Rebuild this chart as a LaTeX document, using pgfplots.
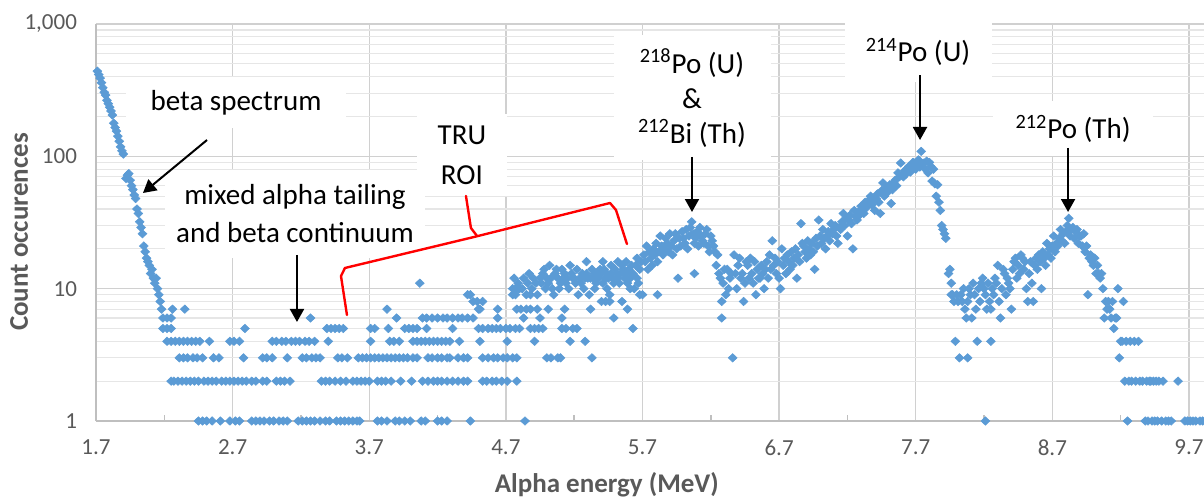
\documentclass[border=0pt]{standalone}
\usepackage{fontspec}
\setmainfont{Carlito}
\usepackage{pgfplots}
\pgfplotsset{compat=1.18}
\usetikzlibrary{arrows.meta}
\definecolor{dot}{HTML}{5B9BD5}
\definecolor{tickc}{HTML}{595959}
\definecolor{gmaj}{HTML}{D0D0D0}
\definecolor{gmin}{HTML}{E6E6E6}
\definecolor{axl}{HTML}{BFBFBF}
\definecolor{roi}{HTML}{FF0000}
\pgfplotsset{pt/.style={only marks, mark=diamond*, mark size=2.1pt,
    mark options={xscale=1.4, fill=dot, draw=dot, line width=0.3pt}}}
\begin{document}
\begin{tikzpicture}
\begin{axis}[name=ax, scale only axis, width=554pt, height=198.5pt,
  xmin=1.7, xmax=9.81, ymode=log, ymin=1, ymax=1000,
  axis x line*=bottom, axis y line*=left,
  axis line style={axl, line width=1pt},
  xtick={1.7,2.7,3.7,4.7,5.7,6.7,7.7,8.7,9.7},
  xticklabels={1.7,2.7,3.7,4.7,5.7,6.7,7.7,8.7,9.7},
  minor xtick={2.2,3.2,4.2,5.2,6.2,7.2,8.2,9.2},
  ytick={1,10,100,1000}, yticklabels={1,10,100,{1,000}},
  minor ytick={2,3,4,5,6,7,8,9,20,30,40,50,60,70,80,90,200,300,400,500,600,700,800,900},
  xmajorgrids, ymajorgrids, yminorgrids,
  major grid style={gmaj, line width=0.7pt},
  minor grid style={gmin, line width=0.6pt},
  tick align=inside, major tick length=0pt, minor tick length=3pt,
  minor x tick style={axl, line width=0.8pt},
  minor y tick style={draw=none},
  ticklabel style={font=\fontsize{11.5}{13}\selectfont, text=tickc},
  yticklabel style={xshift=-6pt},
  xticklabel style={yshift=-6pt},
  xlabel={Alpha energy (MeV)}, ylabel={Count occurences},
  label style={font=\fontsize{13.5}{16}\selectfont\bfseries, text=tickc},
  xlabel style={at={(axis description cs:0.461,-0.181)}, anchor=base},
  ylabel style={at={(axis description cs:-0.0614,0.476)}, anchor=base},
  clip=false,
]
% beta spectrum
\addplot[pt] coordinates {(1.71,440)(1.72,415)(1.73,390)(1.74,360)(1.75,330)(1.76,305)(1.77,290)(1.78,265)(1.79,250)(1.80,235)(1.81,220)(1.82,205)(1.83,178)(1.84,165)(1.85,155)(1.86,142)(1.87,130)(1.88,118)(1.89,110)(1.90,104)(1.92,68)(1.93,72)(1.94,74)(1.95,66)(1.96,60)(1.97,56)(1.98,51)(1.99,48)(2.00,40)(2.01,37)(2.02,32)(2.03,29)(2.04,26)(2.05,21)(2.06,19)(2.07,17)(2.08,16)(2.09,15)(2.10,13)(2.11,14)(2.12,12)(2.13,11)(2.14,12)(2.15,10)(2.16,9)(2.17,8)(2.18,7)};
% low-count region, by level
\addplot[pt] coordinates {(2.26,7)(2.35,7)(3.83,7)(4.51,7)(4.50,7)(4.64,7)(4.78,7)(4.81,7)(4.85,7)(4.88,7)
(2.19,6)(2.22,6)(2.25,6)(3.27,6)(3.90,6)(4.09,6)(4.12,6)(4.16,6)(4.20,6)(4.24,6)(4.27,6)(4.31,6)(4.35,6)(4.38,6)(4.42,6)(4.46,6)(4.64,6)(4.83,6)
(2.19,5)(2.22,5)(2.25,5)(2.79,5)(3.39,5)(3.42,5)(3.45,5)(3.48,5)(3.51,5)(3.71,5)(3.74,5)(3.84,5)(3.96,5)(3.99,5)(4.02,5)(4.05,5)(4.12,5)(4.31,5)(4.50,5)(4.53,5)(4.57,5)(4.60,5)(4.63,5)(4.66,5)(4.70,5)(4.73,5)(4.77,5)(4.80,5)
(2.22,4)(2.25,4)(2.28,4)(2.31,4)(2.34,4)(2.37,4)(2.40,4)(2.43,4)(2.46,4)(2.53,4)(2.68,4)(2.71,4)(2.75,4)(2.99,4)(3.02,4)(3.06,4)(3.09,4)(3.13,4)(3.16,4)(3.19,4)(3.23,4)(3.26,4)(3.30,4)(3.40,4)(3.71,4)(3.85,4)(3.88,4)(3.92,4)(4.02,4)(4.05,4)(4.08,4)(4.11,4)(4.14,4)(4.17,4)(4.20,4)(4.23,4)(4.26,4)(4.29,4)(4.36,4)(4.51,4)(4.71,4)
(2.31,3)(2.34,3)(2.37,3)(2.41,3)(2.44,3)(2.48,3)(2.56,3)(2.60,3)(2.78,3)(2.92,3)(2.95,3)(2.99,3)(3.10,3)(3.21,3)(3.24,3)(3.28,3)(3.31,3)(3.34,3)(3.47,3)(3.50,3)(3.54,3)(3.62,3)(3.65,3)(3.68,3)(3.71,3)(3.74,3)(3.77,3)(3.80,3)(3.83,3)(3.86,3)(3.89,3)(3.92,3)(3.95,3)(3.98,3)(4.02,3)(4.05,3)(4.13,3)(4.16,3)(4.20,3)(4.23,3)(4.27,3)(4.29,3)(4.35,3)(4.39,3)(4.42,3)(4.53,3)(4.57,3)(4.61,3)(4.64,3)(4.68,3)(4.71,3)(4.75,3)(4.78,3)
(2.25,2)(2.27,2)(2.30,2)(2.33,2)(2.36,2)(2.39,2)(2.42,2)(2.45,2)(2.49,2)(2.52,2)(2.55,2)(2.58,2)(2.62,2)(2.65,2)(2.68,2)(2.71,2)(2.74,2)(2.77,2)(2.80,2)(2.84,2)(2.87,2)(2.92,2)(2.95,2)(3.02,2)(3.05,2)(3.08,2)(3.12,2)(3.35,2)(3.38,2)(3.41,2)(3.45,2)(3.49,2)(3.53,2)(3.58,2)(3.61,2)(3.64,2)(3.67,2)(3.70,2)(3.76,2)(3.79,2)(3.82,2)(3.86,2)(3.93,2)(4.01,2)(4.09,2)(4.13,2)(4.17,2)(4.20,2)(4.23,2)(4.27,2)(4.31,2)(4.35,2)(4.39,2)(4.42,2)(4.53,2)(4.56,2)(4.60,2)(4.63,2)(4.67,2)(4.71,2)(4.78,2)
(2.45,1)(2.48,1)(2.51,1)(2.55,1)(2.61,1)(2.68,1)(2.72,1)(2.75,1)(2.84,1)(2.87,1)(2.90,1)(2.93,1)(2.97,1)(3.00,1)(3.04,1)(3.07,1)(3.10,1)(3.18,1)(3.21,1)(3.24,1)(3.27,1)(3.30,1)(3.34,1)(3.38,1)(3.41,1)(3.46,1)(3.49,1)(3.52,1)(3.55,1)(3.58,1)(3.61,1)(3.63,1)(3.76,1)(3.79,1)(3.83,1)(3.89,1)(3.92,1)(3.96,1)(4.00,1)(4.08,1)(4.11,1)(4.20,1)(4.23,1)(4.27,1)(4.44,1)(4.84,1)
(4.07,11)(4.42,9)(4.44,9)(4.46,8)(4.49,8)(4.53,8)(4.75,9)(4.77,10)(4.79,10)};
% TRU region band 4.75-5.7
\addplot[pt] coordinates {(4.75,10)(4.76,12)(4.77,9)(4.79,11)(4.80,10)(4.82,10)(4.83,12)(4.85,9)(4.86,11)(4.88,9)(4.89,10)(4.90,12)(4.92,11)(4.93,9)(4.95,12)(4.96,11)(4.97,13)(4.99,10)(5.00,12)(5.01,11)(5.03,12)(5.04,10)(5.06,13)(5.07,14)(5.08,12)(5.09,10)(5.10,11)(5.12,12)(5.13,13)(5.14,11)(5.15,12)(5.16,10)(5.18,13)(5.19,12)(5.20,12)(5.21,11)(5.22,14)(5.24,12)(5.25,11)(5.26,13)(5.27,10)(5.28,12)(5.29,13)(5.30,12)(5.31,9)(5.32,12)(5.33,14)(5.34,12)(5.35,13)(5.36,11)(5.37,13)(5.38,12)(5.39,14)(5.40,13)(5.41,11)(5.42,14)(5.43,12)(5.44,13)(5.45,12)(5.46,9)(5.47,13)(5.48,12)(5.49,11)(5.50,14)(5.51,13)(5.52,12)(5.53,11)(5.54,13)(5.55,15)(5.56,14)(5.57,12)(5.58,13)(5.59,11)(5.60,14)(5.61,12)(5.62,15)(5.63,13)(5.64,10)(5.65,15)(5.66,12)(5.67,11)(5.68,14)(5.69,16)(5.70,9)
(4.87,13)(4.98,14)(5.02,15)(5.05,9)(5.11,14)(5.17,15)(5.23,9)(5.29,16)(5.35,10)(5.41,16)(5.44,10)(5.47,15)(5.52,16)(5.58,16)(5.61,10)(5.66,17)
(4.88,5)(4.91,5)(4.91,4)(4.95,6)(4.94,5)(4.97,5)(4.93,7)(5.01,7)(5.00,3)(5.03,3)(5.08,3)(5.10,3)(5.11,6)(5.11,5)(5.13,7)(5.14,5)(5.17,4)(5.19,5)(5.22,5)(5.28,4)(5.32,7)(5.33,3)(5.40,8)(5.43,8)(5.46,8)(5.49,6)(5.55,8)(5.59,7)(5.63,5)(5.68,9)};
% 218Po / 212Bi peak
\addplot[pt] coordinates {(5.71,18)(5.72,16)(5.73,21)(5.74,14)(5.75,19)(5.76,17)(5.77,15)(5.78,20)(5.79,18)(5.80,22)(5.81,16)(5.81,9)(5.82,19)(5.83,25)(5.84,21)(5.85,18)(5.86,20)(5.87,24)(5.88,22)(5.89,19)(5.90,26)(5.91,21)(5.92,18)(5.93,23)(5.94,26)(5.95,20)(5.96,12)(5.97,24)(5.98,21)(5.99,27)(6.00,24)(6.01,22)(6.02,28)(6.03,20)(6.04,25)(6.05,29)(6.06,32)(6.07,26)(6.08,13)(6.08,22)(6.09,24)(6.10,27)(6.11,21)(6.12,29)(6.13,25)(6.14,23)(6.15,22)(6.16,26)(6.17,28)(6.18,21)(6.19,19)(6.20,25)(6.21,23)(6.22,21)(6.23,19)(6.24,15)(6.25,18)(6.26,13)(6.27,12)(6.28,8)(6.28,6)(6.29,11)(6.30,14)(6.31,9)(6.32,14)(6.33,10)(6.34,12)(6.35,13)(6.36,3)};
% rising band to 214Po
\addplot[pt] coordinates {(6.37,18)(6.38,13)(6.39,10)(6.40,15)(6.41,17)(6.42,12)(6.43,13)(6.44,8)(6.45,11)(6.46,16)(6.47,15)(6.48,12)(6.49,17)(6.50,13)(6.51,11)(6.52,16)(6.53,9)(6.54,14)(6.55,12)(6.56,12)(6.57,15)(6.58,13)(6.59,10)(6.60,14)(6.61,16)(6.62,12)(6.63,18)(6.64,14)(6.65,23)(6.66,15)(6.67,17)(6.68,13)(6.69,16)(6.70,12)(6.71,10)(6.72,20)(6.73,15)(6.74,17)(6.75,13)(6.76,18)(6.77,16)(6.78,14)(6.79,19)(6.80,15)(6.81,17)(6.82,20)(6.83,12)(6.84,18)(6.85,16)(6.86,31)(6.87,22)(6.88,21)(6.89,19)(6.90,17)(6.91,23)(6.92,20)(6.93,18)(6.94,22)(6.95,19)(6.96,14)(6.97,24)(6.98,21)(6.99,33)(7.00,25)(7.01,22)(7.02,28)(7.03,24)(7.04,20)(7.05,25)(7.06,27)(7.07,23)(7.08,31)(7.09,26)(7.10,28)(7.11,30)(7.12,25)(7.13,22)(7.14,29)(7.15,28)(7.16,32)(7.17,37)(7.18,30)(7.19,34)(7.20,25)(7.21,33)(7.22,36)(7.23,31)(7.24,20)(7.25,39)(7.26,35)(7.27,33)(7.28,38)(7.29,36)(7.30,42)(7.31,40)(7.32,37)(7.33,45)(7.34,41)(7.35,44)(7.36,47)(7.37,50)(7.38,43)(7.39,46)(7.40,39)(7.41,48)(7.42,52)(7.43,45)(7.44,37)(7.45,55)(7.46,63)(7.47,50)(7.48,57)(7.49,53)(7.50,58)(7.51,61)(7.52,44)(7.53,56)(7.54,63)(7.55,66)(7.56,60)(7.57,75)(7.58,70)(7.59,89)(7.60,72)(7.61,70)(7.62,78)(7.63,74)(7.64,79)(7.65,84)(7.66,76)(7.67,82)(7.68,90)(7.69,89)(7.70,80)(7.71,86)(7.72,94)(7.73,83)(7.74,109)(7.75,88)(7.76,89)(7.77,80)(7.78,92)(7.79,75)(7.80,90)(7.81,84)(7.82,65)(7.83,80)(7.84,62)(7.85,50)(7.86,61)(7.87,45)(7.88,39)(7.89,30)(7.90,28)(7.91,26)(7.92,24)(7.94,13)(7.95,14)(7.96,11)};
% dip and 212Po peak, tail
\addplot[pt] coordinates {(7.96,9)(7.97,9)(7.99,4)(7.98,8)(8.00,9)(8.01,8)(8.02,3)(8.03,9)(8.04,8)(8.05,10)(8.06,7)(8.07,6)(8.08,3)(8.08,8)(8.09,10)(8.10,9)(8.11,6)(8.12,11)(8.13,9)(8.14,7)(8.15,4)(8.16,10)(8.17,8)(8.18,11)(8.19,12)(8.20,10)(8.21,1)(8.21,9)(8.22,7)(8.23,11)(8.24,8)(8.25,4)(8.25,7)(8.26,10)(8.27,9)(8.28,12)(8.29,11)(8.30,15)(8.31,8)(8.32,6)(8.33,10)(8.34,14)(8.35,13)(8.36,9)(8.37,12)(8.38,11)(8.39,10)(8.40,7)(8.41,14)(8.42,16)(8.43,17)(8.44,12)(8.45,15)(8.46,13)(8.47,18)(8.48,17)(8.49,14)(8.50,16)(8.51,10)(8.52,8)(8.53,13)(8.54,16)(8.55,11)(8.56,8)(8.57,15)(8.58,17)(8.59,14)(8.60,18)(8.61,16)(8.62,10)(8.63,19)(8.64,17)(8.65,15)(8.66,22)(8.67,18)(8.68,20)(8.69,17)(8.70,21)(8.71,25)(8.72,19)(8.73,22)(8.74,21)(8.75,24)(8.76,28)(8.77,23)(8.78,26)(8.79,22)(8.80,27)(8.81,30)(8.82,34)(8.83,25)(8.84,28)(8.85,29)(8.86,24)(8.87,27)(8.88,28)(8.89,22)(8.90,25)(8.91,25)(8.92,21)(8.93,26)(8.94,19)(8.95,21)(8.96,9)(8.97,17)(8.98,18)(8.99,16)(9.00,15)(9.01,17)(9.02,13)(9.03,15)(9.04,13)(9.05,12)(9.06,13)(9.07,10)(9.08,6)(9.09,8)(9.10,7)(9.11,8)(9.12,7)(9.13,6)(9.14,8)(9.15,5)(9.16,6)(9.17,6)(9.18,10)(9.19,3)(9.20,4)(9.21,4)(9.22,8)(9.23,2)(9.24,4)(9.25,1)(9.26,2)(9.27,4)(9.28,2)(9.30,4)(9.31,2)(9.33,4)(9.34,2)(9.36,2)(9.38,1)(9.39,2)(9.40,1)(9.41,2)(9.42,2)(9.43,1)(9.44,2)(9.45,1)(9.46,2)(9.47,1)(9.48,2)(9.50,1)(9.51,2)(9.53,1)(9.55,1)(9.57,1)(9.62,2)(9.67,1)(9.69,1)(9.71,1)(9.73,1)(9.75,1)(9.78,1)(9.80,1)};
% annotations
\node[fill=white, minimum width=110pt, minimum height=25.5pt, inner sep=0pt, font=\fontsize{14.5}{17}\selectfont] at (axis description cs:0.1264,0.801) {beta spectrum};
\node[fill=white, align=center, minimum width=130pt, minimum height=44pt, inner sep=0pt, font=\fontsize{14.5}{19}\selectfont] at (axis description cs:0.1796,0.5214) {mixed alpha tailing\\and beta continuum};
\node[fill=white, align=center, minimum width=45pt, minimum height=41pt, inner sep=0pt, font=\fontsize{14.5}{20}\selectfont] at (axis description cs:0.3303,0.670) {TRU\\ROI};
\node[fill=white, align=center, minimum width=78.5pt, minimum height=62.5pt, inner sep=0pt, font=\fontsize{14.5}{17.5}\selectfont] at (axis description cs:0.5379,0.8136) {\textsuperscript{218}Po (U)\\\&\\\textsuperscript{212}Bi (Th)};
\node[fill=white, minimum width=73.5pt, minimum height=30pt, inner sep=0pt, font=\fontsize{14.5}{17}\selectfont] at (axis description cs:0.7419,0.9295) {\textsuperscript{214}Po (U)};
\node[fill=white, minimum width=80pt, minimum height=27.5pt, inner sep=0pt, font=\fontsize{14.5}{17}\selectfont] at (axis description cs:0.8818,0.7355) {\textsuperscript{212}Po (Th)};
\draw[-{Triangle[width=7pt,length=6.5pt]}, line width=1pt] (axis description cs:0.1002,0.7078) -- (axis description cs:0.0424,0.5743);
\draw[-{Triangle[width=7pt,length=6.5pt]}, line width=1pt] (axis description cs:0.1814,0.4181) -- (axis description cs:0.1814,0.2494);
\draw[-{Triangle[width=7pt,length=6.5pt]}, line width=1pt] (axis description cs:0.5379,0.665) -- (axis description cs:0.5379,0.5264);
\draw[-{Triangle[width=7pt,length=6.5pt]}, line width=1pt] (axis description cs:0.7437,0.8715) -- (axis description cs:0.7437,0.7078);
\draw[-{Triangle[width=7pt,length=6.5pt]}, line width=1pt] (axis description cs:0.8773,0.6877) -- (axis description cs:0.8773,0.5264);
\draw[roi, line width=1.2pt, line join=round, line cap=round] (axis description cs:0.2265,0.2670) -- (axis description cs:0.2211,0.3652) -- (axis description cs:0.2247,0.3854) -- (axis description cs:0.3412,0.4635) -- (axis description cs:0.3484,0.4685) -- (axis description cs:0.4639,0.5491) -- (axis description cs:0.4693,0.5315) -- (axis description cs:0.4792,0.4458);
\draw[roi, line width=1.2pt, line join=round, line cap=round] (axis description cs:0.3339,0.5668) -- (axis description cs:0.3384,0.4861) -- (axis description cs:0.3439,0.466);
\end{axis}
\pgfresetboundingbox
\path[use as bounding box] ([xshift=-48pt,yshift=-39pt]ax.south west) rectangle ([yshift=12pt]ax.north east);
\end{tikzpicture}
\end{document}
